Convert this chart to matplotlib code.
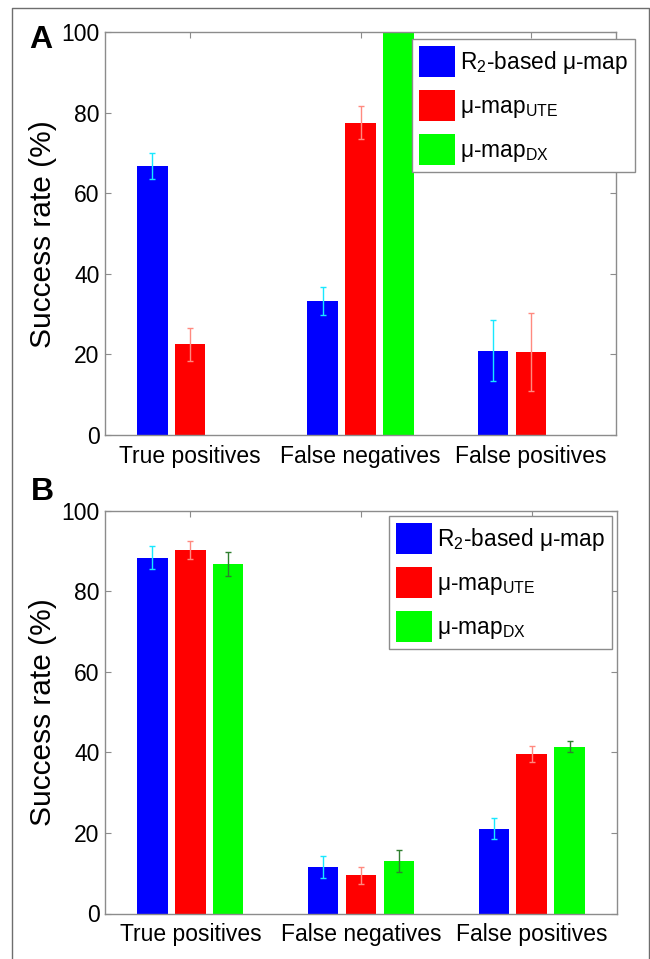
import numpy as np
import matplotlib
matplotlib.use("Agg")
import matplotlib.pyplot as plt
from matplotlib.lines import Line2D

plt.rcParams['font.family'] = ['Liberation Sans', 'DejaVu Sans']
plt.rcParams['mathtext.fontset'] = 'custom'
plt.rcParams['mathtext.rm'] = 'Liberation Sans'
plt.rcParams['mathtext.it'] = 'Liberation Sans:italic'
plt.rcParams['mathtext.bf'] = 'Liberation Sans:bold'

categories = ["True positives", "False negatives", "False positives"]
series_labels = [r"R$_{\mathrm{2}}$-based μ-map", r"μ-map$_{\mathrm{UTE}}$", r"μ-map$_{\mathrm{DX}}$"]
yticks = [0, 20, 40, 60, 80, 100]

# Panel A
a_r2 = [66.8, 33.3, 20.9]
a_r2_err = [3.3, 3.4, 7.6]
a_ute = [22.5, 77.6, 20.7]
a_ute_err = [4.0, 4.0, 9.7]
a_dx = [np.nan, 100.0, np.nan]
a_dx_err = [np.nan, 0.0, np.nan]

# Panel B
b_r2 = [88.3, 11.5, 21.1]
b_r2_err = [2.85, 2.8, 2.5]
b_ute = [90.3, 9.5, 39.6]
b_ute_err = [2.2, 2.1, 2.0]
b_dx = [86.8, 13.0, 41.4]
b_dx_err = [2.9, 2.8, 1.35]

bar_colors = ['#0000ff', '#ff0000', '#00ff00']
err_colors = ['#18e8ff', '#ff8a80', '#2f7f2f']

W, H = 650, 959
fig = plt.figure(figsize=(W / 100, H / 100), dpi=100)

def fx(px):
    return px / W

def fy(py):
    return 1 - py / H

spine_col = '#8c8c8c'

def draw_panel(ax, series, errs, leg_anchor):
    x = np.arange(1, len(categories) + 1)
    offs = [-2 / 9, 0, 2 / 9]
    width = 0.1785
    handles = []
    for i, (vals, er) in enumerate(zip(series, errs)):
        vals = np.array(vals, dtype=float)
        er = np.array(er, dtype=float)
        pos = x + offs[i]
        h = ax.bar(pos, np.nan_to_num(vals), width=width, color=bar_colors[i],
                   edgecolor='none', zorder=2)
        handles.append(h)
        m = ~np.isnan(vals) & (np.nan_to_num(er) > 0)
        if m.any():
            ax.errorbar(pos[m], vals[m], yerr=er[m], fmt='none', ecolor=err_colors[i],
                        elinewidth=1.0, capsize=2.5, capthick=1.0, zorder=3)
    ax.set_xlim(0.5, 3.5)
    ax.set_ylim(0, 100)
    ax.set_xticks(x)
    ax.set_xticklabels(categories)
    ax.set_yticks(yticks)
    ax.tick_params(axis='both', direction='in', length=4.5, width=0.8, color=spine_col,
                   labelsize=16.5, labelcolor='black', top=True, right=True)
    ax.tick_params(axis='x', pad=7)
    ax.tick_params(axis='y', pad=4)
    for s in ax.spines.values():
        s.set_color(spine_col)
        s.set_linewidth(1.0)
    ax.set_ylabel("Success rate (%)", fontsize=21.5, labelpad=3)
    leg = ax.legend([h for h in handles], series_labels, loc='upper right',
                    bbox_to_anchor=leg_anchor, bbox_transform=fig.transFigure,
                    borderaxespad=0, fontsize=16.4, frameon=True, fancybox=False,
                    handlelength=1.57, handleheight=1.75, handletextpad=0.25,
                    labelspacing=0.55, borderpad=0.3)
    leg.get_frame().set_edgecolor('#8c8c8c')
    leg.get_frame().set_linewidth(1.0)
    leg.get_frame().set_alpha(1.0)
    leg.set_zorder(5)
    return ax

axA = fig.add_axes([fx(105), fy(435), fx(616) - fx(105), fy(32.3) - fy(435)])
draw_panel(axA, [a_r2, a_ute, a_dx], [a_r2_err, a_ute_err, a_dx_err], (fx(635), fy(39)))
axB = fig.add_axes([fx(105), fy(913.5), fx(617) - fx(105), fy(510.7) - fy(913.5)])
draw_panel(axB, [b_r2, b_ute, b_dx], [b_r2_err, b_ute_err, b_dx_err], (fx(612), fy(516)))

fig.text(fx(29), fy(48), 'A', fontsize=23, fontweight='bold', ha='left', va='baseline')
fig.text(fx(31), fy(500), 'B', fontsize=23, fontweight='bold', ha='left', va='baseline')

# outer frame
fcol = '#6e6e6e'
fig.add_artist(Line2D([fx(12), fx(12), fx(649), fx(649)], [0, fy(8), fy(8), 0],
                      transform=fig.transFigure, color=fcol, linewidth=1.0))

fig.savefig("out.png", dpi=100)
